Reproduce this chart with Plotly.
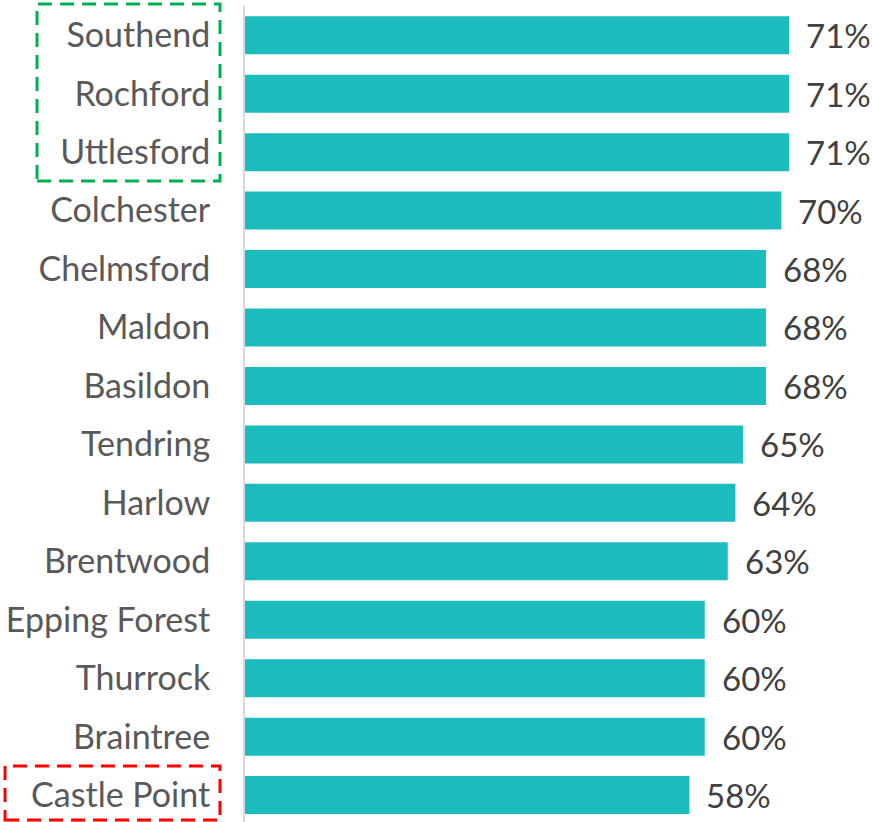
import plotly.graph_objects as go

categories = ["Southend", "Rochford", "Uttlesford", "Colchester", "Chelmsford", "Maldon",
              "Basildon", "Tendring", "Harlow", "Brentwood", "Epping Forest", "Thurrock",
              "Braintree", "Castle Point"]
values = [71, 71, 71, 70, 68, 68, 68, 65, 64, 63, 60, 60, 60, 58]
value_labels = [f"{v}%" for v in values]

BAR = "#1CBBBE"
FONT = "Lato, 'Open Sans', sans-serif"

fig = go.Figure()
fig.add_trace(go.Bar(
    x=values, y=categories, orientation="h",
    marker=dict(color=BAR, line=dict(width=0)),
    hoverinfo="skip",
))

for c, v, t in zip(categories, values, value_labels):
    fig.add_annotation(x=v, y=c, text=t, showarrow=False, xanchor="left",
                       xshift=15, font=dict(family=FONT, size=33, color="#404040"))

# dashed highlight boxes around labels
fig.add_shape(type="rect", xref="paper", yref="paper",
              x0=-0.3393, x1=-0.0408, y0=0.7855, y1=1.0025,
              line=dict(color="#00B050", width=3, dash="14px,8px"))
fig.add_shape(type="rect", xref="paper", yref="paper",
              x0=-0.3915, x1=-0.0408, y0=0.00245, y1=0.0686,
              line=dict(color="#FF0000", width=3, dash="14px,8px"))

fig.update_layout(
    width=872, height=822,
    margin=dict(l=245, r=14, t=6, b=0, autoexpand=False),
    paper_bgcolor="white", plot_bgcolor="white",
    bargap=0.35, showlegend=False,
    xaxis=dict(range=[0, 80], visible=False, automargin=False),
    yaxis=dict(categoryorder="array", categoryarray=categories, automargin=False,
               range=[13.46, -0.5], showline=True, linecolor="#D9D9D9", linewidth=2,
               showgrid=False, zeroline=False, ticks="",
               ticklabelstandoff=26,
               tickfont=dict(family=FONT, size=34, color="#595959")),
    font=dict(family=FONT),
)

fig.write_html("out.html", config={"displayModeBar": False},
               post_script="document.body.style.margin='0';document.body.style.overflow='hidden';")
